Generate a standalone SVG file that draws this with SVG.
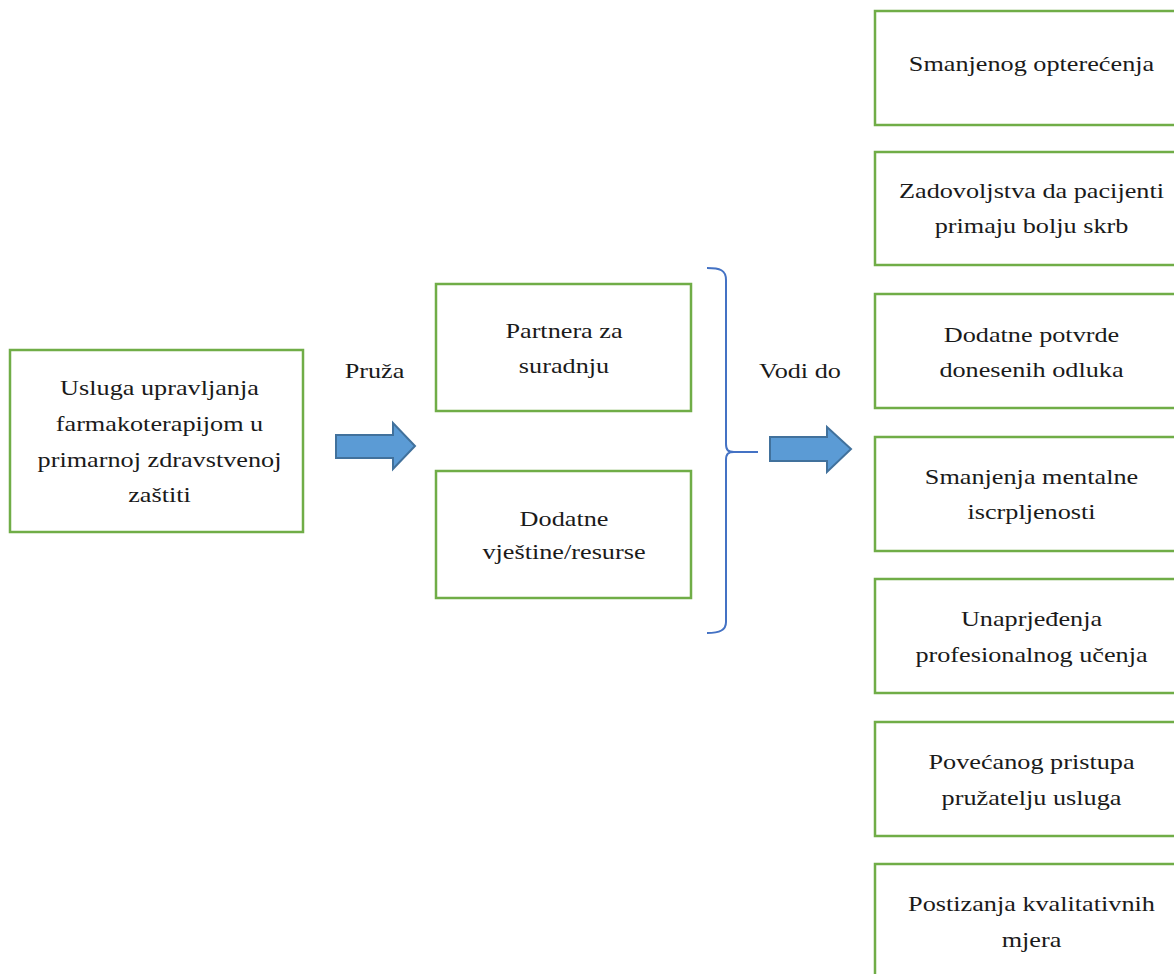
<svg xmlns="http://www.w3.org/2000/svg" width="1174" height="974" viewBox="0 0 1174 974">
<style>
.box{fill:#fff;stroke:#70AD47;stroke-width:2.5}
.t{font-family:"Liberation Serif","Times New Roman",serif;font-size:21.5px;fill:#1a1a1a;text-anchor:middle}
.arr{fill:#5B9BD5;stroke:#41719C;stroke-width:2;stroke-linejoin:miter}
.brace{fill:none;stroke:#4472C4;stroke-width:2}
</style>
<rect width="1174" height="974" fill="#fff"/>
<g id="n-usluga">
<rect class="box" x="10" y="350" width="293" height="182"/>
<text class="t" transform="matrix(1.22,0,0,1,159.5,0)"><tspan x="0" y="395">Usluga upravljanja</tspan><tspan x="0" y="431">farmakoterapijom u</tspan><tspan x="0" y="467">primarnoj zdravstvenoj</tspan><tspan x="0" y="502">zaštiti</tspan></text>
</g>
<g id="n-partnera">
<rect class="box" x="436" y="284" width="255" height="127"/>
<text class="t" transform="matrix(1.22,0,0,1,564,0)"><tspan x="0" y="338">Partnera za</tspan><tspan x="0" y="373">suradnju</tspan></text>
</g>
<g id="n-dodatne">
<rect class="box" x="436" y="471" width="255" height="127"/>
<text class="t" transform="matrix(1.22,0,0,1,564,0)"><tspan x="0" y="526">Dodatne</tspan><tspan x="0" y="559">vještine/resurse</tspan></text>
</g>
<g id="n-r1">
<rect class="box" x="875" y="11" width="320" height="114"/>
<text class="t" transform="matrix(1.22,0,0,1,1031.5,0)"><tspan x="0" y="71">Smanjenog opterećenja</tspan></text>
</g>
<g id="n-r2">
<rect class="box" x="875" y="152" width="320" height="113"/>
<text class="t" transform="matrix(1.22,0,0,1,1031.5,0)"><tspan x="0" y="198">Zadovoljstva da pacijenti</tspan><tspan x="0" y="233">primaju bolju skrb</tspan></text>
</g>
<g id="n-r3">
<rect class="box" x="875" y="294" width="320" height="114"/>
<text class="t" transform="matrix(1.22,0,0,1,1031.5,0)"><tspan x="0" y="342">Dodatne potvrde</tspan><tspan x="0" y="377">donesenih odluka</tspan></text>
</g>
<g id="n-r4">
<rect class="box" x="875" y="437" width="320" height="114"/>
<text class="t" transform="matrix(1.22,0,0,1,1031.5,0)"><tspan x="0" y="484">Smanjenja mentalne</tspan><tspan x="0" y="519">iscrpljenosti</tspan></text>
</g>
<g id="n-r5">
<rect class="box" x="875" y="579" width="320" height="114"/>
<text class="t" transform="matrix(1.22,0,0,1,1031.5,0)"><tspan x="0" y="626">Unaprjeđenja</tspan><tspan x="0" y="662">profesionalnog učenja</tspan></text>
</g>
<g id="n-r6">
<rect class="box" x="875" y="722" width="320" height="114"/>
<text class="t" transform="matrix(1.22,0,0,1,1031.5,0)"><tspan x="0" y="769">Povećanog pristupa</tspan><tspan x="0" y="805">pružatelju usluga</tspan></text>
</g>
<g id="n-r7">
<rect class="box" x="875" y="864" width="320" height="130"/>
<text class="t" transform="matrix(1.22,0,0,1,1031.5,0)"><tspan x="0" y="911">Postizanja kvalitativnih</tspan><tspan x="0" y="947">mjera</tspan></text>
</g>
<g id="connectors">
<polygon class="arr" points="336,435 393,435 393,423 415,446 393,469 393,458 336,458"/>
<text class="t" transform="matrix(1.22,0,0,1,374.5,0)"><tspan x="0" y="378">Pruža</tspan></text>
<path class="brace" d="M707,268 C720,268 726,270 726,280 L726,444 C726,450 728,452 734,452 L758,452 M734,452 C728,452 726,454 726,460 L726,622 C726,630 720,633 707,633"/>
<polygon class="arr" points="770,437 827,437 827,427 851,449 827,472 827,461 770,461"/>
<text class="t" transform="matrix(1.22,0,0,1,800,0)"><tspan x="0" y="378">Vodi do</tspan></text>
</g>
</svg>
